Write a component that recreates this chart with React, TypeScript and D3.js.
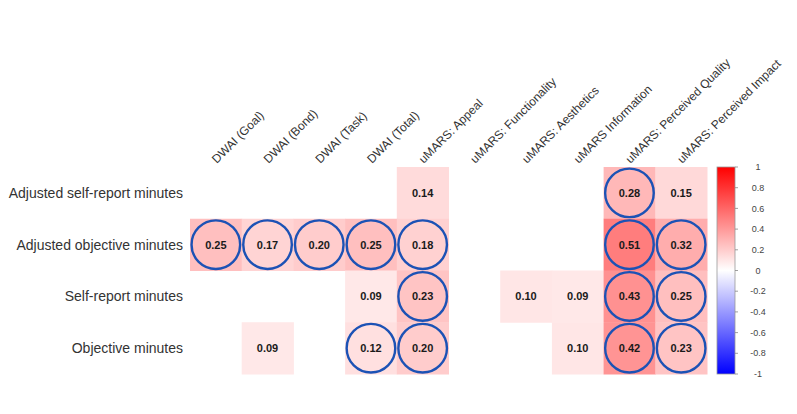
import { useEffect, useRef } from "react";
import * as d3 from "d3";

// correlations between usage minutes and alliance / app-quality scores
const rowLabels = [
  "Adjusted self-report minutes",
  "Adjusted objective minutes",
  "Self-report minutes",
  "Objective minutes",
];

const colLabels = [
  "DWAI (Goal)",
  "DWAI (Bond)",
  "DWAI (Task)",
  "DWAI (Total)",
  "uMARS: Appeal",
  "uMARS: Functionality",
  "uMARS: Aesthetics",
  "uMARS Information",
  "uMARS: Perceived Quality",
  "uMARS: Perceived Impact",
];

// null = not shown
const adjSelfReport = [null, null, null, null, 0.14, null, null, null, 0.28, 0.15];
const adjObjective = [0.25, 0.17, 0.2, 0.25, 0.18, null, null, null, 0.51, 0.32];
const selfReport = [null, null, null, 0.09, 0.23, null, 0.1, 0.09, 0.43, 0.25];
const objective = [null, 0.09, null, 0.12, 0.2, null, null, 0.1, 0.42, 0.23];

// significant cells get a ring
const sigAdjSelfReport = [0, 0, 0, 0, 0, 0, 0, 0, 1, 0];
const sigAdjObjective = [1, 1, 1, 1, 1, 0, 0, 0, 1, 1];
const sigSelfReport = [0, 0, 0, 0, 1, 0, 0, 0, 1, 1];
const sigObjective = [0, 0, 0, 1, 1, 0, 0, 0, 1, 1];

const legendTicks = [1, 0.8, 0.6, 0.4, 0.2, 0, -0.2, -0.4, -0.6, -0.8, -1];

export default function App() {
  const ref = useRef<SVGSVGElement>(null);

  useEffect(() => {
    const svg = d3.select(ref.current);
    svg.selectAll("*").remove();

    const values = [adjSelfReport, adjObjective, selfReport, objective];
    const sig = [sigAdjSelfReport, sigAdjObjective, sigSelfReport, sigObjective];

    const cells = values.flatMap((row, r) =>
      row.map((v, c) => ({ r, c, v, s: sig[r][c] === 1 }))
    );

    const left = 190, right = 707, top = 167, bottom = 374;

    const x = d3.scaleBand<number>().domain(d3.range(colLabels.length)).range([left, right]);
    const y = d3.scaleBand<number>().domain(d3.range(rowLabels.length)).range([top, bottom]);

    const color = d3
      .scaleLinear<string>()
      .domain([-1, 0, 1])
      .range(["#0000ff", "#ffffff", "#ff0000"])
      .interpolate(d3.interpolateRgb);

    const font = "'Liberation Sans', Arial, sans-serif";

    // cells
    svg
      .append("g")
      .selectAll("rect")
      .data(cells.filter((d) => d.v !== null))
      .join("rect")
      .attr("x", (d) => x(d.c)!)
      .attr("y", (d) => y(d.r)!)
      .attr("width", x.bandwidth() + 0.5)
      .attr("height", y.bandwidth() + 0.5)
      .attr("fill", (d) => color(d.v as number));

    // significance rings
    svg
      .append("g")
      .selectAll("circle")
      .data(cells.filter((d) => d.v !== null && d.s))
      .join("circle")
      .attr("cx", (d) => x(d.c)! + x.bandwidth() / 2)
      .attr("cy", (d) => y(d.r)! + y.bandwidth() / 2)
      .attr("r", 24.3)
      .attr("fill", "none")
      .attr("stroke", "#1c52b5")
      .attr("stroke-width", 2.4);

    // value labels
    svg
      .append("g")
      .selectAll("text")
      .data(cells.filter((d) => d.v !== null))
      .join("text")
      .attr("x", (d) => x(d.c)! + x.bandwidth() / 2)
      .attr("y", (d) => y(d.r)! + y.bandwidth() / 2)
      .attr("dy", "0.36em")
      .attr("text-anchor", "middle")
      .attr("font-family", font)
      .attr("font-size", 11)
      .attr("font-weight", "bold")
      .attr("fill", "#1a1a1a")
      .text((d) => d3.format(".2f")(d.v as number));

    // row labels
    svg
      .append("g")
      .selectAll("text")
      .data(rowLabels)
      .join("text")
      .attr("x", left - 7)
      .attr("y", (_, i) => y(i)! + y.bandwidth() / 2)
      .attr("dy", "0.35em")
      .attr("text-anchor", "end")
      .attr("font-family", font)
      .attr("font-size", 14)
      .attr("fill", "#333")
      .text((d) => d);

    // column labels, rotated
    svg
      .append("g")
      .selectAll("text")
      .data(colLabels)
      .join("text")
      .attr(
        "transform",
        (_, i) => `translate(${x(i)! + x.bandwidth() / 2 + 1},${top - 3}) rotate(-45)`
      )
      .attr("font-family", font)
      .attr("font-size", 12)
      .attr("fill", "#333")
      .text((d) => d);

    // colour legend
    const lx = 717, lw = 18;
    const ly = d3.scaleLinear().domain([1, -1]).range([top, bottom]);

    const grad = svg
      .append("defs")
      .append("linearGradient")
      .attr("id", "cor-grad")
      .attr("x1", "0%")
      .attr("y1", "0%")
      .attr("x2", "0%")
      .attr("y2", "100%");
    // stops go top (1) to bottom (-1)
    d3.range(0, 21).forEach((i) => {
      const v = 1 - i * 0.1;
      grad
        .append("stop")
        .attr("offset", `${(i / 20) * 100}%`)
        .attr("stop-color", color(v));
    });

    svg
      .append("rect")
      .attr("x", lx)
      .attr("y", top)
      .attr("width", lw)
      .attr("height", bottom - top)
      .attr("fill", "url(#cor-grad)")
      .attr("stroke", "#999")
      .attr("stroke-width", 0.8);

    const lg = svg.append("g");
    lg.selectAll("line")
      .data(legendTicks)
      .join("line")
      .attr("x1", lx + lw)
      .attr("x2", lx + lw + 3)
      .attr("y1", (d) => ly(d))
      .attr("y2", (d) => ly(d))
      .attr("stroke", "#888")
      .attr("stroke-width", 0.8);
    lg.selectAll("text")
      .data(legendTicks)
      .join("text")
      .attr("x", 758)
      .attr("y", (d) => ly(d))
      .attr("dy", "0.35em")
      .attr("text-anchor", "middle")
      .attr("font-family", font)
      .attr("font-size", 9)
      .attr("fill", "#444")
      .text((d) => String(d));
  }, []);

  return (
    <svg
      ref={ref}
      width={797}
      height={414}
      style={{ position: "absolute", left: 0, top: 0, background: "#fff" }}
    />
  );
}
